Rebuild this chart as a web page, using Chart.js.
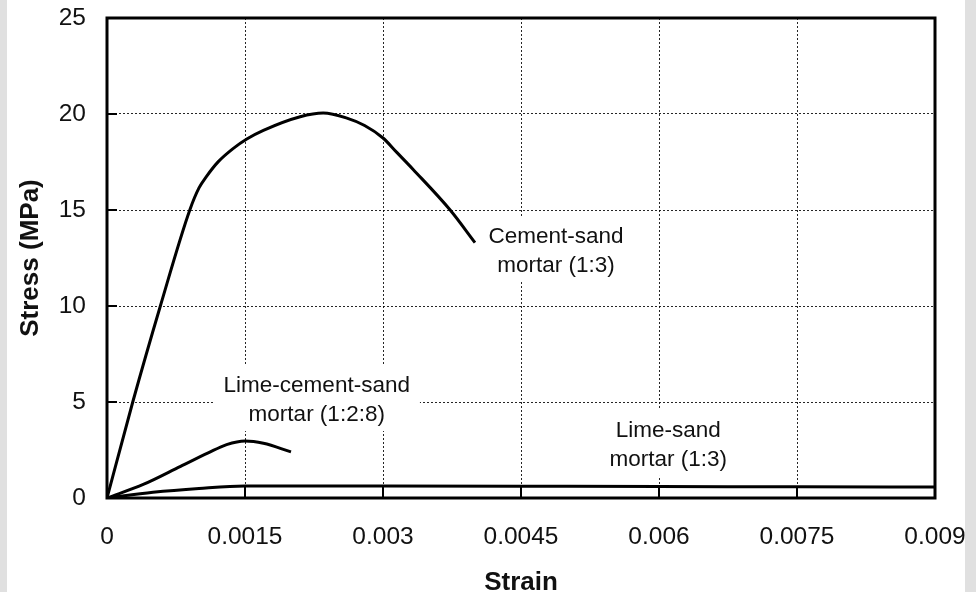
<!DOCTYPE html>
<html>
<head>
<meta charset="utf-8">
<script src="https://cdn.jsdelivr.net/npm/chart.js@4.4.0/dist/chart.umd.min.js"></script>
<style>
  html, body { margin: 0; padding: 0; background: #fff; }
  #wrap { position: relative; width: 976px; height: 592px; overflow: hidden; }
  #chart { position: absolute; left: 0; top: 0; }
  .strip { position: absolute; top: 0; height: 592px; background: #e0e0e0; }
</style>
</head>
<body>
<div id="wrap">
  <canvas id="chart" width="976" height="592"></canvas>
  <div class="strip" style="left:0;width:7px"></div>
  <div class="strip" style="left:965px;width:11px"></div>
</div>
<script>
// values
const xTicks = [0, 0.0015, 0.003, 0.0045, 0.006, 0.0075, 0.009];
const yTicks = [0, 5, 10, 15, 20, 25];

const cementStrain = [0, 0.00028, 0.00058, 0.0009, 0.001, 0.00108, 0.00121, 0.00137, 0.00152, 0.0017, 0.0021, 0.00235, 0.0026, 0.0028, 0.003, 0.00315, 0.00333, 0.00373, 0.004];
const cementStress = [0, 5, 10, 15, 16.15, 16.74, 17.52, 18.2, 18.7, 19.15, 19.86, 20.05, 19.8, 19.4, 18.75, 18.0, 17.1, 15.0, 13.3];

const limeCementStrain = [0, 0.0004, 0.0008, 0.0011, 0.0013, 0.0015, 0.0017, 0.002];
const limeCementStress = [0, 0.72, 1.65, 2.35, 2.78, 2.97, 2.85, 2.4];

const limeSandStrain = [0, 0.0005, 0.001, 0.0015, 0.003, 0.0045, 0.006, 0.0075, 0.009];
const limeSandStress = [0, 0.3, 0.5, 0.63, 0.62, 0.61, 0.6, 0.58, 0.57];

// curve labels, anchored in data units (centre x, first baseline y)
const curveLabels = [
  { lines: ['Cement-sand', 'mortar (1:3)'], x: 0.00488, y: 13.28 },
  { lines: ['Lime-cement-sand', 'mortar (1:2:8)'], x: 0.00228, y: 5.52 },
  { lines: ['Lime-sand', 'mortar (1:3)'], x: 0.0061, y: 3.18 }
];

const FONT = '"Liberation Sans", Arial, Helvetica, sans-serif';

function toPoints(xs, ys) {
  return xs.map((v, i) => ({ x: v, y: ys[i] }));
}

function curve(xs, ys) {
  return {
    data: toPoints(xs, ys),
    borderColor: '#000',
    borderWidth: 3,
    pointRadius: 0,
    fill: false,
    cubicInterpolationMode: 'monotone'
  };
}

// labels sit on white so the dotted grid breaks behind them
const curveLabelPlugin = {
  id: 'curveLabels',
  beforeDatasetsDraw(chart) {
    const { ctx, scales: { x, y } } = chart;
    ctx.save();
    ctx.font = '22.5px ' + FONT;
    ctx.textAlign = 'center';
    ctx.textBaseline = 'alphabetic';
    curveLabels.forEach(l => {
      const cx = x.getPixelForValue(l.x);
      const by = y.getPixelForValue(l.y);
      const w = Math.max(...l.lines.map(t => ctx.measureText(t).width));
      ctx.fillStyle = '#fff';
      ctx.fillRect(cx - w / 2 - 10, by - 27, w + 20, 29 * (l.lines.length - 1) + 37);
      ctx.fillStyle = '#111';
      l.lines.forEach((t, i) => ctx.fillText(t, cx, by + i * 29));
    });
    ctx.restore();
  }
};

// heavy frame plus inward tick marks
const framePlugin = {
  id: 'frame',
  afterDatasetsDraw(chart) {
    const { ctx, chartArea: a, scales: { x, y } } = chart;
    ctx.save();
    ctx.strokeStyle = '#000';
    ctx.lineWidth = 2;
    ctx.beginPath();
    xTicks.forEach(v => {
      const px = x.getPixelForValue(v);
      ctx.moveTo(px, a.bottom);
      ctx.lineTo(px, a.bottom - 11);
    });
    yTicks.forEach(v => {
      const py = y.getPixelForValue(v);
      ctx.moveTo(a.left, py);
      ctx.lineTo(a.left + 10, py);
    });
    ctx.stroke();
    ctx.lineWidth = 3;
    ctx.strokeRect(a.left, a.top, a.right - a.left, a.bottom - a.top);
    ctx.restore();
  }
};

new Chart(document.getElementById('chart'), {
  type: 'line',
  data: {
    datasets: [
      curve(cementStrain, cementStress),
      curve(limeCementStrain, limeCementStress),
      curve(limeSandStrain, limeSandStress)
    ]
  },
  options: {
    responsive: false,
    animation: false,
    layout: { padding: { left: 0, right: 41, top: 18, bottom: 0 } },
    plugins: { legend: { display: false }, tooltip: { enabled: false } },
    scales: {
      x: {
        type: 'linear',
        min: 0,
        max: 0.009,
        afterBuildTicks: s => { s.ticks = xTicks.map(v => ({ value: v })); },
        afterFit: s => { s.height = 94; s.paddingLeft = 0; s.paddingRight = 0; },
        ticks: {
          color: '#111',
          padding: 25,
          maxRotation: 0,
          font: { family: FONT, size: 24.5 },
          callback: v => String(v)
        },
        grid: { color: 'rgba(0,0,0,0.85)', lineWidth: 1, drawTicks: false },
        border: { display: false, dash: [2, 2] },
        title: {
          display: true,
          text: 'Strain',
          color: '#111',
          font: { family: FONT, size: 26, weight: 'bold' },
          padding: { top: 0, bottom: -6 }
        }
      },
      y: {
        min: 0,
        max: 25,
        afterBuildTicks: s => { s.ticks = yTicks.map(v => ({ value: v })); },
        afterFit: s => { s.width = 107; s.paddingTop = 0; s.paddingBottom = 0; },
        ticks: {
          color: '#111',
          padding: 21,
          font: { family: FONT, size: 24.5 }
        },
        grid: { color: 'rgba(0,0,0,0.85)', lineWidth: 1, drawTicks: false },
        border: { display: false, dash: [2, 2] },
        title: {
          display: true,
          text: 'Stress (MPa)',
          color: '#111',
          font: { family: FONT, size: 26, weight: 'bold' },
          padding: { top: 15, bottom: 0 }
        }
      }
    }
  },
  plugins: [curveLabelPlugin, framePlugin]
});
</script>
</body>
</html>
